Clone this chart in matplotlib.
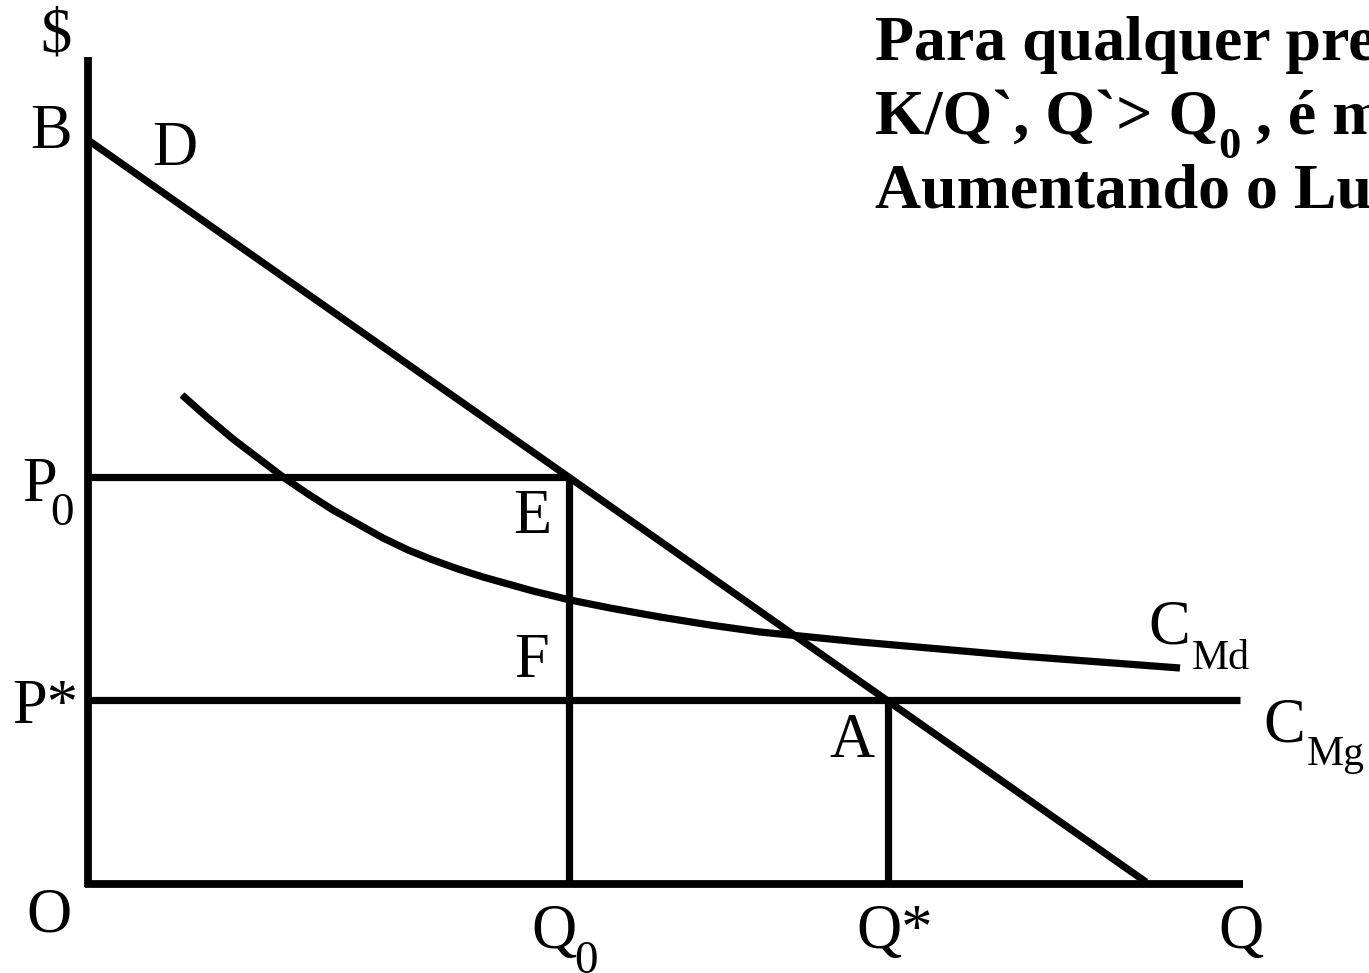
import matplotlib
matplotlib.use("Agg")
import matplotlib.pyplot as plt

# ── Dados do diagrama (origem O = (0, 0), Q para a direita, $ para cima) ──
q_axis_end = 1155
p_axis_top = 827

demand_q = [0, 1058]
demand_p = [744, 2]

q0, p0 = 481, 407          # ponto E
q_star, p_star = 800, 184  # ponto A
cmg_q_end = 1152

# custo medio (lido ponto a ponto da figura)
cmd_q = [94, 120, 145, 170, 195, 220, 245, 270, 295, 320, 345, 370, 395,
         420, 445, 482, 522, 572, 622, 672, 712, 772, 852, 932, 1012, 1092]
cmd_p = [489, 466, 445, 426, 407, 390, 374, 360, 346, 334, 324, 315, 307,
         300, 293, 284, 276, 267, 259, 252, 248, 242, 235, 228, 222, 216]

title_lines = ["Para qualquer preço",
               "Aumentando o Lucro"]

SERIF = ["Liberation Serif", "DejaVu Serif"]
LW = 5.2

fig = plt.figure(figsize=(13.69, 9.73), dpi=100)
fig.patch.set_facecolor("white")
ax = fig.add_axes([0, 0, 1, 1])
ax.set_xlim(-88, 1281)
ax.set_ylim(-89, 884)
ax.axis("off")
renderer = fig.canvas.get_renderer()

# ── Eixos ────────────────────────────────────────────────────────────────────
ax.plot([-3, q_axis_end], [0, 0], color="black", lw=5.6, solid_capstyle="butt")
ax.plot([0, 0], [-3, p_axis_top], color="black", lw=5.6, solid_capstyle="butt")

# ── Curvas ───────────────────────────────────────────────────────────────────
ax.plot(demand_q, demand_p, color="black", lw=LW, solid_capstyle="butt")
ax.plot(cmd_q, cmd_p, color="black", lw=LW, solid_capstyle="butt",
        solid_joinstyle="round")
ax.plot([0, q0], [p0, p0], color="black", lw=LW, solid_capstyle="butt")
ax.plot([q0, q0], [0, p0], color="black", lw=LW, solid_capstyle="butt")
ax.plot([0, cmg_q_end], [p_star, p_star], color="black", lw=LW,
        solid_capstyle="butt")
ax.plot([q_star, q_star], [0, p_star], color="black", lw=LW,
        solid_capstyle="butt")


# ── Rotulos (posicoes em pixels da imagem: x a partir da esquerda,
#    y = linha de base a partir do topo) ─────────────────────────────────────
def put(xp, yp, s, size, bold=False):
    t = ax.text(xp - 88, 884 - yp, s, ha="left", va="baseline",
                fontsize=size, family=SERIF,
                fontweight="bold" if bold else "normal", color="black")
    bb = t.get_window_extent(renderer)
    return bb.x1


BIG, SUB_DIGIT, SUB_TXT = 45, 34, 30

put(40, 52, "$", BIG)
put(30, 148, "B", BIG)
put(152, 165, "D", BIG)
put(22, 501, "P", BIG)
put(50, 525, "0", SUB_DIGIT)
put(513, 533, "E", BIG)
put(514, 677, "F", BIG)
put(12, 723, "P*", BIG)
put(829, 757, "A", BIG)
x = put(1148, 644, "C", BIG)
put(x + 2, 669, "Md", SUB_TXT)
x = put(1263, 741, "C", BIG)
put(x + 2, 765, "Mg", SUB_TXT)
put(26, 932, "O", BIG)
x = put(531, 948, "Q", BIG)
put(x - 2, 973, "0", SUB_DIGIT)
put(856, 948, "Q*", BIG)
put(1218, 948, "Q", BIG)

# ── Texto do titulo (cortado na borda direita) ───────────────────────────────
TS = 46
put(875, 60, title_lines[0], TS, bold=True)
x = put(875, 134, "K/Q`, Q`> Q", TS, bold=True)
x = put(x, 158, "0", 32, bold=True)
put(x, 134, " , é menor", TS, bold=True)
put(875, 208, title_lines[1], TS, bold=True)

fig.savefig("out.png", dpi=100, facecolor=fig.get_facecolor())
plt.close(fig)
